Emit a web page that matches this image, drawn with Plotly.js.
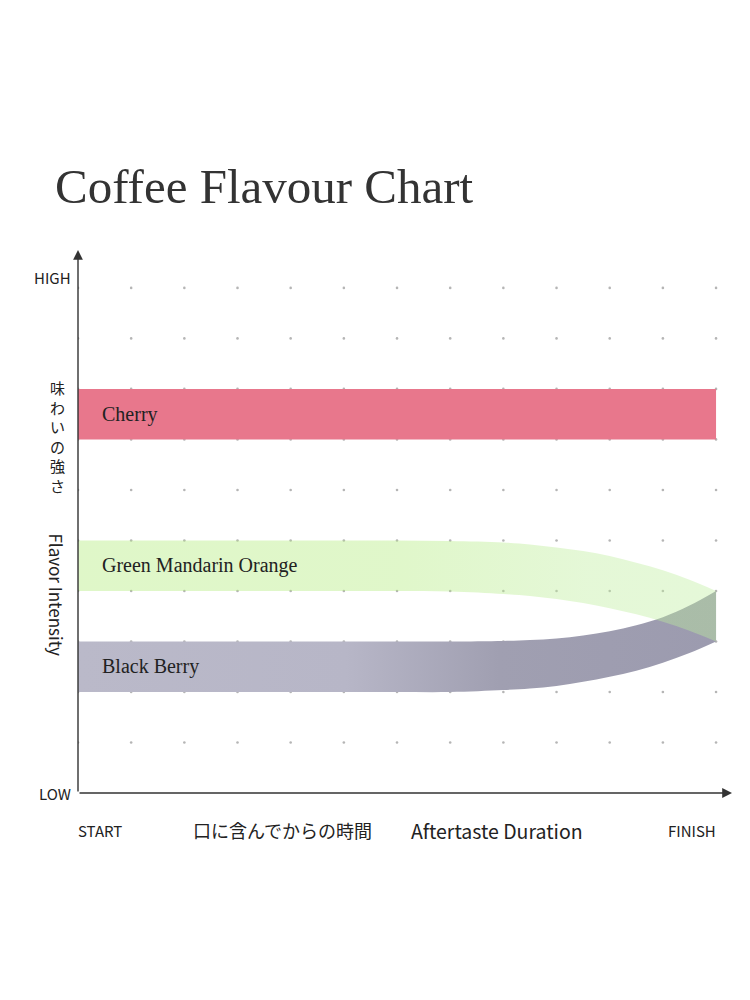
<!DOCTYPE html>
<html>
<head>
<meta charset="utf-8">
<script src="https://cdn.plot.ly/plotly-3.0.1.min.js"></script>
<style>html,body{margin:0;padding:0;background:#fff;}#chart{width:750px;height:1000px;}</style>
</head>
<body>
<div id="chart"></div>
<script>
// ---- data ----
const titleText = 'Coffee Flavour Chart';
const timeSteps    = [0,1,2,3,4,5,6,7,8,8.5,9,9.5,10,10.5,11,11.5,12];
const cherryTop    = [8,8,8,8,8,8,8,8,8,8,8,8,8,8,8,8,8];
const cherryBottom = [7,7,7,7,7,7,7,7,7,7,7,7,7,7,7,7,7];
const greenTop     = [5,5,5,5,5,5,5,4.99,4.96,4.92,4.86,4.79,4.69,4.56,4.41,4.22,4.0];
const greenBottom  = [4,4,4,4,4,4,4,3.99,3.94,3.9,3.84,3.76,3.66,3.54,3.39,3.21,3.0];
const berryTop     = [3,3,3,3,3,3,3,3.0,3.01,3.03,3.06,3.12,3.2,3.32,3.48,3.71,4.0];
const berryBottom  = [2,2,2,2,2,2,2,2.0,2.04,2.07,2.12,2.2,2.3,2.42,2.58,2.77,3.0];
const bandNames = ['Cherry','Green Mandarin Orange','Black Berry'];
const gridX = [0,1,2,3,4,5,6,7,8,9,10,11,12];
const gridY = [1,2,3,4,5,6,7,8,9,10];
const yTickLabels = ['LOW','HIGH'];
const xTickLabels = ['START','FINISH'];
const yTitleJa = '味わいの強さ';
const yTitleEn = 'Flavor Intensity';
const xTitleJa = '口に含んでからの時間';
const xTitleEn = 'Aftertaste Duration';

// ---- build traces ----
const dotX = [], dotY = [];
gridY.forEach(y => gridX.forEach(x => { dotX.push(x); dotY.push(y); }));

const SANS = '"Noto Sans CJK JP", "Noto Sans", sans-serif';
const SERIF = '"Liberation Serif", "DejaVu Serif", serif';

function edge(y, extra) {
  return Object.assign({
    x: timeSteps, y: y, mode: 'lines', type: 'scatter',
    line: {width: 0, shape: 'spline', smoothing: 1},
    hoverinfo: 'skip', showlegend: false
  }, extra || {});
}

const traces = [
  {x: dotX, y: dotY, mode: 'markers', type: 'scatter',
   marker: {size: 2.6, color: '#b5b5b5'}, hoverinfo: 'skip', showlegend: false},
  edge(cherryBottom),
  edge(cherryTop, {fill: 'tonexty', fillcolor: '#e8778c'}),
  edge(berryBottom),
  edge(berryTop, {fill: 'tonexty', fillcolor: '#b0b0c0',
    fillgradient: {type: 'horizontal', start: 0, stop: 12,
      colorscale: [[0,'#bab9c9'],[0.42,'#b7b6c7'],[0.66,'#a09fb1'],[1,'#9c9baf']]}}),
  edge(greenBottom),
  edge(greenTop, {fill: 'tonexty', fillcolor: 'rgba(180,236,125,0.4)',
    fillgradient: {type: 'horizontal', start: 0, stop: 12,
      colorscale: [[0,'rgba(175,235,118,0.4)'],[0.5,'rgba(177,235,122,0.4)'],[0.8,'rgba(189,237,155,0.4)'],[1,'rgba(190,238,158,0.4)']]}})
];

// ---- annotations ----
const bandLevels = [
  (cherryTop[0] + cherryBottom[0]) / 2,
  (greenTop[0] + greenBottom[0]) / 2,
  (berryTop[0] + berryBottom[0]) / 2
];
const ann = [];
bandNames.forEach((n, i) => ann.push({
  text: n, x: 0.42, y: bandLevels[i], xref: 'x', yref: 'y',
  xanchor: 'left', yanchor: 'middle', showarrow: false,
  font: {family: SERIF, size: 20, color: '#222'}
}));
// axis lines with arrowheads
ann.push({x: 12.3, y: 0, ax: 0, ay: 0, xref: 'x', yref: 'y', axref: 'x', ayref: 'y',
  text: '', showarrow: true, arrowhead: 2, arrowsize: 1.4, arrowwidth: 1.4, arrowcolor: '#333'});
ann.push({x: 0, y: 10.75, ax: 0, ay: 0, xref: 'x', yref: 'y', axref: 'x', ayref: 'y',
  text: '', showarrow: true, arrowhead: 2, arrowsize: 1.4, arrowwidth: 1.4, arrowcolor: '#333'});
// tick labels
const tickFont = {family: SANS, size: 15, color: '#222'};
ann.push({text: yTickLabels[0], x: 0, y: 0, xref: 'x', yref: 'y', xanchor: 'right', yanchor: 'middle',
  xshift: -5, showarrow: false, font: tickFont});
ann.push({text: yTickLabels[1], x: 0, y: 10.2, xref: 'x', yref: 'y', xanchor: 'right', yanchor: 'middle',
  xshift: -5, showarrow: false, font: tickFont});
ann.push({text: xTickLabels[0], x: 0, y: 0, xref: 'x', yref: 'y', xanchor: 'left', yanchor: 'middle',
  yshift: -37, xshift: -2, showarrow: false, font: tickFont});
ann.push({text: xTickLabels[1], x: 12, y: 0, xref: 'x', yref: 'y', xanchor: 'right', yanchor: 'middle',
  yshift: -37, xshift: 2, showarrow: false, font: tickFont});
// axis titles
ann.push({text: xTitleJa, x: 3.84, y: 0, xref: 'x', yref: 'y', xanchor: 'center', yanchor: 'middle',
  yshift: -37, showarrow: false, font: {family: SANS, size: 18, color: '#222'}});
ann.push({text: xTitleEn, x: 7.88, y: 0, xref: 'x', yref: 'y', xanchor: 'center', yanchor: 'middle',
  yshift: -37, showarrow: false, font: {family: SANS, size: 19.5, color: '#222'}});
ann.push({text: yTitleJa.split('').join('<br>'), x: 0, y: 7.06, xref: 'x', yref: 'y',
  xanchor: 'center', yanchor: 'middle', xshift: -21, showarrow: false,
  font: {family: SANS, size: 15, color: '#222'}});
ann.push({text: yTitleEn, x: 0, y: 3.93, xref: 'x', yref: 'y', textangle: 90,
  xanchor: 'center', yanchor: 'middle', xshift: -21, showarrow: false,
  font: {family: SANS, size: 17, color: '#222'}});

const layout = {
  width: 750, height: 1000,
  paper_bgcolor: '#fff', plot_bgcolor: '#fff',
  margin: {l: 78, r: 18, t: 250, b: 207},
  title: {text: titleText, xref: 'container', yref: 'container', x: 55/750, xanchor: 'left',
    y: 1 - 186/1000, yanchor: 'middle', font: {family: SERIF, size: 49, color: '#333'}},
  xaxis: {range: [0, 12.3], visible: false, fixedrange: true},
  yaxis: {range: [0, 10.75], visible: false, fixedrange: true},
  annotations: ann,
  showlegend: false
};

Plotly.newPlot('chart', traces, layout, {displayModeBar: false, staticPlot: true});
</script>
</body>
</html>
